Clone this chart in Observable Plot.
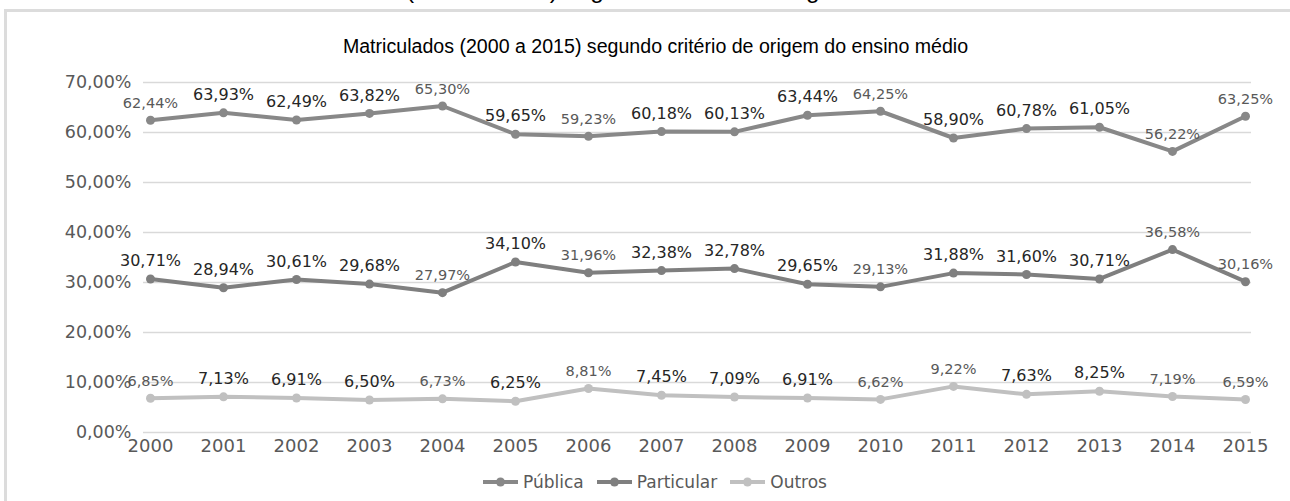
<!DOCTYPE html>
<html>
<head>
<meta charset="utf-8">
<script src="https://cdn.jsdelivr.net/npm/d3@7"></script>
<script src="https://cdn.jsdelivr.net/npm/@observablehq/plot@0.6"></script>
<style>
  html, body { margin: 0; padding: 0; background: #fff; }
  body { width: 1290px; height: 501px; position: relative; overflow: hidden; }
  #cut { position: absolute; left: 0; width: 1300px; top: -22px; text-align: center;
         font-family: "Liberation Sans", Arial, sans-serif; font-size: 24.4px; line-height: 24px; color: #000; white-space: nowrap; }
  #frame { position: absolute; left: 4px; top: 9px; width: 1400px; height: 600px;
           border: 3px solid #dcdcdc; box-sizing: border-box; background: #fff; }
  #title { position: absolute; left: 0; width: 1311px; top: 35px; text-align: center;
           font-family: "Liberation Sans", Arial, sans-serif; font-size: 19.6px; line-height: 22px; color: #000; white-space: nowrap; }
  #chart { position: absolute; left: 0; top: 0; }
  #legend { position: absolute; left: 0; width: 1310px; top: 470px; height: 24px; display: flex; justify-content: center; align-items: center; gap: 13px;
            font-family: "DejaVu Sans", sans-serif; font-size: 17px; color: #595959; }
  .item { display: flex; align-items: center; gap: 5px; }
</style>
</head>
<body>
<div id="frame"></div>
<div id="cut">Matriculados (2000 a 2015) segundo critério de origem do ensino médio</div>
<div id="title">Matriculados (2000 a 2015) segundo critério de origem do ensino médio</div>
<div id="chart"></div>
<div id="legend"></div>
<script>
const years = [2000, 2001, 2002, 2003, 2004, 2005, 2006, 2007, 2008, 2009, 2010, 2011, 2012, 2013, 2014, 2015];
const seriesNames = ["Pública", "Particular", "Outros"];
const publica = [62.44, 63.93, 62.49, 63.82, 65.30, 59.65, 59.23, 60.18, 60.13, 63.44, 64.25, 58.90, 60.78, 61.05, 56.22, 63.25];
const particular = [30.71, 28.94, 30.61, 29.68, 27.97, 34.10, 31.96, 32.38, 32.78, 29.65, 29.13, 31.88, 31.60, 30.71, 36.58, 30.16];
const outros = [6.85, 7.13, 6.91, 6.50, 6.73, 6.25, 8.81, 7.45, 7.09, 6.91, 6.62, 9.22, 7.63, 8.25, 7.19, 6.59];
const yTicks = [0, 10, 20, 30, 40, 50, 60, 70];

// style: which labels are drawn lighter/smaller in the reference
const lightLabels = {
  "Pública": [2000, 2004, 2006, 2010, 2014, 2015],
  "Particular": [2004, 2006, 2010, 2014, 2015],
  "Outros": [2000, 2004, 2006, 2010, 2011, 2014, 2015]
};
const colors = ["#888888", "#7f7f7f", "#c0c0c0"];

const values = [publica, particular, outros];
const rows = [];
seriesNames.forEach((s, i) => years.forEach((y, j) => rows.push({series: s, year: y, value: values[i][j]})));
const fmt = v => v.toFixed(2).replace(".", ",") + "%";
const isLight = d => lightLabels[d.series].includes(d.year);

const plot = Plot.plot({
  width: 1290,
  height: 470,
  marginLeft: 143,
  marginRight: 39,
  marginTop: 82,
  marginBottom: 38,
  style: {fontFamily: "DejaVu Sans, sans-serif", fontSize: "17px", color: "#595959", background: "transparent", overflow: "visible"},
  x: {type: "point", domain: years, padding: 0},
  y: {domain: [0, 70]},
  color: {domain: seriesNames, range: colors},
  marks: [
    Plot.gridY(yTicks, {stroke: "#d9d9d9", strokeOpacity: 1, strokeWidth: 1.3}),
    Plot.axisY(yTicks, {tickSize: 0, tickPadding: 12, tickFormat: fmt, fill: "#595959", fontSize: 17.5, label: null}),
    Plot.axisX(years, {tickSize: 0, tickPadding: 7, tickFormat: d => String(d), fill: "#595959", fontSize: 18, label: null}),
    Plot.line(rows, {x: "year", y: "value", z: "series", stroke: "series", strokeWidth: 4}),
    Plot.dot(rows, {x: "year", y: "value", fill: "series", r: 4.5}),
    Plot.text(rows.filter(d => !isLight(d)), {x: "year", y: "value", text: d => fmt(d.value), dy: -18, fill: "#262626", fontSize: 16}),
    Plot.text(rows.filter(isLight), {x: "year", y: "value", text: d => fmt(d.value), dy: -17, fill: "#595959", fontSize: 14.5})
  ]
});
document.getElementById("chart").appendChild(plot);

const legend = document.getElementById("legend");
seriesNames.forEach((s, i) => {
  const item = document.createElement("div");
  item.className = "item";
  item.innerHTML = `<svg width="35" height="12"><line x1="0" x2="35" y1="6" y2="6" stroke="${colors[i]}" stroke-width="4"/><circle cx="17.5" cy="6" r="4.5" fill="${colors[i]}"/></svg><span>${s}</span>`;
  legend.appendChild(item);
});
</script>
</body>
</html>
